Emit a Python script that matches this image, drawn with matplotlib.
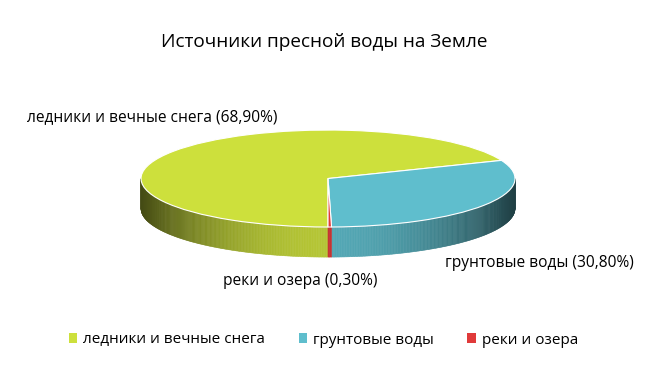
import numpy as np
import matplotlib
matplotlib.use("Agg")
import matplotlib.pyplot as plt
from matplotlib.patches import Patch, Polygon

# data
title = "Источники пресной воды на Земле"
categories = ["ледники и вечные снега", "грунтовые воды", "реки и озера"]
shares = [68.90, 30.80, 0.30]
colors = ["#cde03c", "#5fbecd", "#e03a3a"]

plt.rcParams["font.family"] = ["Open Sans", "DejaVu Sans"]

fig = plt.figure(figsize=(6.6, 3.71), dpi=100)

# axes for the pie: unit circle squashed into an ellipse
depth = 0.62
ax = fig.add_axes([0.1995, 0.2966, 0.595, 0.3594])

wedges, _ = ax.pie(
    shares,
    colors=colors,
    startangle=270,
    counterclock=False,
    radius=1,
    wedgeprops=dict(edgecolor="white", linewidth=0.8, zorder=5),
)
ax.set_aspect("auto")
ax.set_xlim(-1.05, 1.05)
ax.set_ylim(-1 - depth - 0.08, 1.05)
ax.axis("off")


def shade(rgb, theta):
    b = 0.33 + 0.55 * np.sin(theta) ** 2
    return tuple(np.clip(np.array(rgb) * b, 0, 1))


# side walls, only the front half of the pie is visible
for w, c in zip(wedges, colors):
    t1, t2 = np.radians(w.theta1), np.radians(w.theta2)
    rgb = matplotlib.colors.to_rgb(c)
    for front_lo, front_hi in [(-np.pi, 0), (np.pi, 2 * np.pi)]:
        lo = max(t1, front_lo)
        hi = min(t2, front_hi)
        if hi <= lo:
            continue
        steps = np.linspace(lo, hi, max(3, int((hi - lo) / np.radians(0.5))))
        for a, b in zip(steps[:-1], steps[1:]):
            pts = [
                (np.cos(a), np.sin(a)),
                (np.cos(b), np.sin(b)),
                (np.cos(b), np.sin(b) - depth),
                (np.cos(a), np.sin(a) - depth),
            ]
            col = shade(rgb, (a + b) / 2)
            ax.add_patch(Polygon(pts, closed=True, facecolor=col,
                                 edgecolor=col, linewidth=0.4, zorder=2))

fig.text(0.492, 1 - 42 / 371, title, ha="center", va="center", fontsize=13.7)

fig.text(27 / 660, 1 - 117 / 371, f"{categories[0]} ({shares[0]:.2f}%)".replace(".", ","),
         ha="left", va="center", fontsize=11.2)
fig.text(445 / 660, 1 - 263 / 371, f"{categories[1]} ({shares[1]:.2f}%)".replace(".", ","),
         ha="left", va="center", fontsize=11.2)
fig.text(223 / 660, 1 - 281 / 371, f"{categories[2]} ({shares[2]:.2f}%)".replace(".", ","),
         ha="left", va="center", fontsize=11.2)

handles = [Patch(facecolor=c, edgecolor="none") for c in colors]
fig.legend(
    handles,
    categories,
    loc="center",
    bbox_to_anchor=(0.49, 1 - 340 / 371),
    ncol=3,
    frameon=False,
    fontsize=11,
    handlelength=0.55,
    handleheight=0.55,
    handletextpad=0.4,
    columnspacing=2.2,
)

fig.savefig("out.png", dpi=100)
